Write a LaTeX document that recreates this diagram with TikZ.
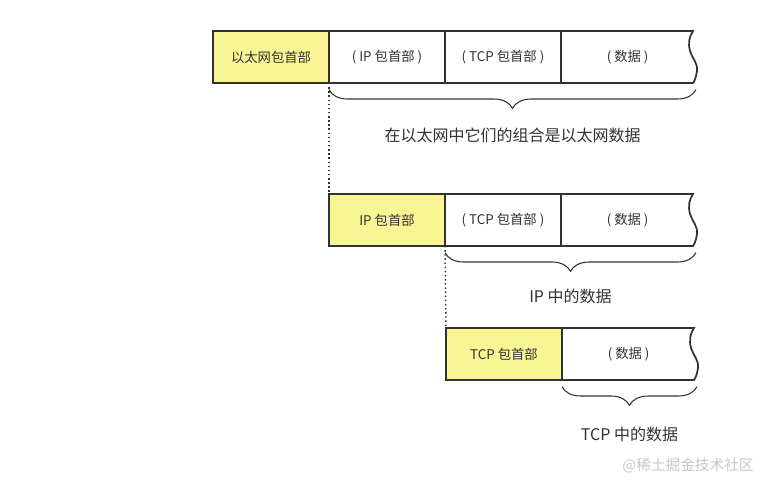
\documentclass[tikz,border=0pt]{standalone}
\usepackage{fontspec}
\setmainfont{Noto Sans CJK SC}
\usetikzlibrary{positioning, calc, decorations.pathreplacing}

\definecolor{hdryellow}{RGB}{249,245,148}
\definecolor{boxline}{RGB}{50,50,50}
\definecolor{txtgray}{RGB}{50,50,50}

\tikzset{
    field/.style={draw=boxline, line width=1.3pt, minimum width=87pt, minimum height=39pt,
        inner sep=0pt, outer sep=0pt, text=txtgray, font=\fontsize{10}{12}\selectfont},
    header/.style={field, fill=hdryellow},
    under/.style={draw=boxline, line width=0.8pt, decorate,
        decoration={brace, mirror, amplitude=14pt, raise=5pt}},
    bracelabel/.style={text=txtgray, font=\fontsize{12}{14}\selectfont, anchor=center},
    link/.style={draw=boxline, dotted, line width=1.1pt}
}

% Open data field with wavy right edge
% Arguments: left neighbour node, name
\newcommand\openfield[2]{
    \draw[boxline, line width=1.3pt] (#1.north east) -- ++(132,0) coordinate (#2t)
        .. controls ($(#2t)+(-4,6)$) and ($(#2t)+(-5,12)$) .. ($(#2t)+(-3,20)$)
        .. controls ($(#2t)+(-1,27)$) and ($(#2t)+(5,32)$) .. ($(#2t)+(4,40)$)
        .. controls ($(#2t)+(3,47)$) and ($(#2t)+(1,51)$) .. ($(#2t)+(0,52)$)
        -- (#1.south east);
    \coordinate (#2e) at ($(#1.south east)+(135,0)$);
    \node[field, draw=none, minimum width=100pt, anchor=west] (#2) at (#1.east) {( 数据 )};
}

\begin{document}
\begin{tikzpicture}[x=0.75pt, y=-0.75pt]
\useasboundingbox (0,0) rectangle (764,482);

% Ethernet frame
\node[header, anchor=north west] (eth) at (213,31) {以太网包首部};
\node[field, right=0pt of eth] (ipA) {( IP 包首部 )};
\node[field, right=0pt of ipA] (tcpA) {( TCP 包首部 )};
\openfield{tcpA}{datA}
\draw[under] (ipA.south west) -- (datAe)
    node[bracelabel, midway, yshift=-39pt] (ethdata) {在以太网中它们的组合是以太网数据};

% IP packet
\node[header, anchor=north west] (ipB) at (329,194) {IP 包首部};
\node[field, right=0pt of ipB] (tcpB) {( TCP 包首部 )};
\openfield{tcpB}{datB}
\draw[under] (tcpB.south west) -- (datBe)
    node[bracelabel, midway, yshift=-37.5pt] (ipdata) {IP 中的数据};
\draw[link] (eth.south east) -- (ipB.north west);

% TCP segment
\node[header, anchor=north west] (tcpC) at (446,328) {TCP 包首部};
\openfield{tcpC}{datC}
\draw[under] (tcpC.south east) -- (datCe)
    node[bracelabel, midway, yshift=-41pt] (tcpdata) {TCP 中的数据};
\draw[link] (ipB.south east) -- (tcpC.north west);

% Watermark
\node[text=gray!45, font=\fontsize{11}{13}\selectfont] (mark) at (688,466) {@稀土掘金技术社区};

\end{tikzpicture}
\end{document}
